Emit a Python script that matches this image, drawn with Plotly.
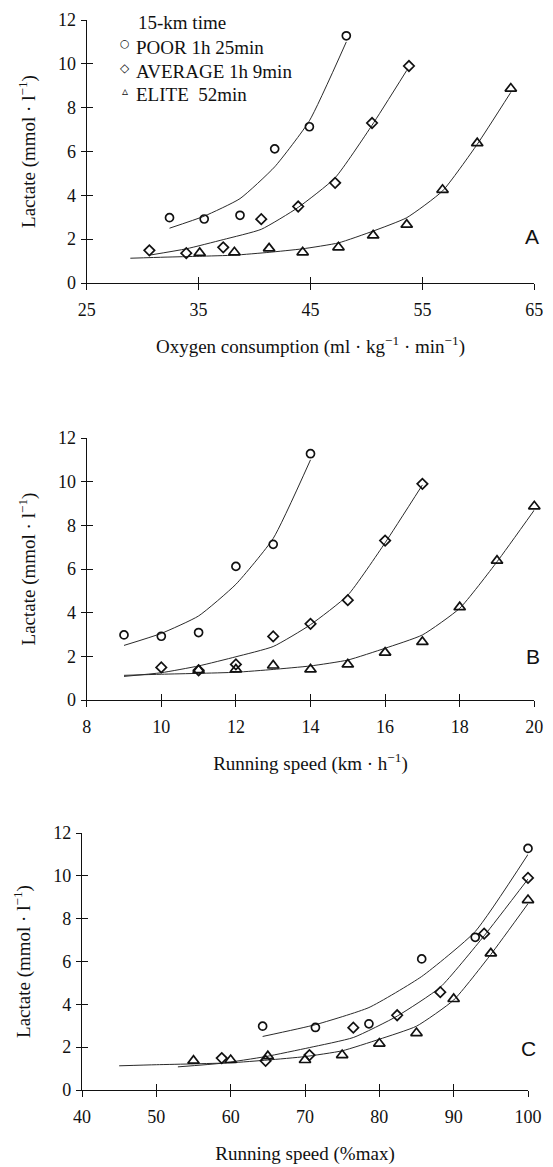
import plotly.graph_objects as go

# ---------------- data ----------------
GROUPS = ["POOR", "AVERAGE", "ELITE"]
GROUP_TIMES = ["1h 25min", "1h 9min", " 52min"]
LEGEND_TITLE = "15-km time"
PANEL_LETTERS = ["A", "B", "C"]

POOR_VO2 = [32.4, 35.5, 38.7, 41.8, 44.9, 48.2]
POOR_SPEED = [9, 10, 11, 12, 13, 14]
POOR_PCT = [64.3, 71.4, 78.6, 85.7, 92.9, 100]
POOR_LACTATE = [2.98, 2.92, 3.09, 6.12, 7.13, 11.28]

AVG_VO2 = [30.6, 33.9, 37.2, 40.6, 43.9, 47.2, 50.5, 53.8]
AVG_SPEED = [10, 11, 12, 13, 14, 15, 16, 17]
AVG_PCT = [58.8, 64.7, 70.6, 76.5, 82.4, 88.2, 94.1, 100]
AVG_LACTATE = [1.49, 1.36, 1.63, 2.91, 3.49, 4.57, 7.30, 9.90]

ELITE_VO2 = [35.1, 38.2, 41.3, 44.3, 47.5, 50.6, 53.6, 56.8, 59.9, 62.9]
ELITE_SPEED = [11, 12, 13, 14, 15, 16, 17, 18, 19, 20]
ELITE_PCT = [55, 60, 65, 70, 75, 80, 85, 90, 95, 100]
ELITE_LACTATE = [1.37, 1.40, 1.58, 1.40, 1.63, 2.17, 2.66, 4.25, 6.38, 8.87]

# fitted curves
POOR_FIT_VO2 = [32.4, 35.5, 38.7, 41.8, 44.9, 48.2]
POOR_FIT_SPEED = [9, 10, 11, 12, 13, 14]
POOR_FIT_PCT = [64.3, 71.4, 78.6, 85.7, 92.9, 100]
POOR_FIT = [2.5, 3.05, 3.85, 5.3, 7.4, 11.0]

AVG_FIT_VO2 = [30.6, 33.9, 37.2, 40.6, 43.9, 47.2, 50.5, 53.6]
AVG_FIT_VO2_LACTATE = [1.27, 1.56, 1.98, 2.45, 3.45, 4.8, 7.2, 9.7]
AVG_FIT_SPEED = [9, 10, 11, 12, 13, 14, 15, 16, 17]
AVG_FIT_PCT = [52.9, 58.8, 64.7, 70.6, 76.5, 82.4, 88.2, 94.1, 100]
AVG_FIT = [1.08, 1.25, 1.56, 1.98, 2.45, 3.45, 4.8, 7.2, 9.85]

ELITE_FIT_VO2 = [28.9, 32.0, 35.1, 38.2, 41.3, 44.3, 47.5, 50.6, 53.6, 56.8, 59.9, 62.9]
ELITE_FIT_SPEED = [9, 10, 11, 12, 13, 14, 15, 16, 17, 18, 19, 20]
ELITE_FIT_PCT = [45, 50, 55, 60, 65, 70, 75, 80, 85, 90, 95, 100]
ELITE_FIT = [1.13, 1.18, 1.22, 1.27, 1.40, 1.56, 1.83, 2.37, 2.98, 4.2, 6.33, 8.7]

X_TICKS_A = [25, 35, 45, 55, 65]
X_TICKS_B = [8, 10, 12, 14, 16, 18, 20]
X_TICKS_C = [40, 50, 60, 70, 80, 90, 100]
Y_TICKS = [0, 2, 4, 6, 8, 10, 12]

# ---------------- layout helpers ----------------
PAGE_W, PAGE_H = 553, 1167
BODY = 8                      # default page margin around the plot div
W, H = PAGE_W - BODY, PAGE_H - BODY
def fx(p):                    # page pixel -> paper fraction
    return (p - BODY) / W
def fy(p):
    return 1 - (p - BODY) / H

SERIF = "Liberation Serif"
SANS = "Liberation Sans"
INK = "#111111"
SYMBOLS = ["circle-open", "diamond-open", "triangle-up-open"]
SIZES = [8, 8, 10]

fig = go.Figure()

panels = [
    dict(xs=[POOR_VO2, AVG_VO2, ELITE_VO2],
         fx=[POOR_FIT_VO2, AVG_FIT_VO2, ELITE_FIT_VO2],
         fy=[POOR_FIT, AVG_FIT_VO2_LACTATE, ELITE_FIT],
         ticks=X_TICKS_A, xr=[25, 65], xd=(86.7, 534.3), yd=(283, 20),
         title="Oxygen consumption (ml · kg<sup>−1</sup> · min<sup>−1</sup>)"),
    dict(xs=[POOR_SPEED, AVG_SPEED, ELITE_SPEED],
         fx=[POOR_FIT_SPEED, AVG_FIT_SPEED, ELITE_FIT_SPEED],
         fy=[POOR_FIT, AVG_FIT, ELITE_FIT],
         ticks=X_TICKS_B, xr=[8, 20], xd=(86.7, 534.3), yd=(700, 438),
         title="Running speed (km · h<sup>−1</sup>)"),
    dict(xs=[POOR_PCT, AVG_PCT, ELITE_PCT],
         fx=[POOR_FIT_PCT, AVG_FIT_PCT, ELITE_FIT_PCT],
         fy=[POOR_FIT, AVG_FIT, ELITE_FIT],
         ticks=X_TICKS_C, xr=[40, 100], xd=(82, 528), yd=(1090, 833),
         title="Running speed (%max)"),
]
LACT = [POOR_LACTATE, AVG_LACTATE, ELITE_LACTATE]

layout = {}
for i, p in enumerate(panels):
    n = i + 1
    m = i + 4
    xa = "x" if n == 1 else f"x{n}"
    ya = "y" if n == 1 else f"y{n}"
    xo, yo = f"x{m}", f"y{m}"
    xdom = [fx(p["xd"][0]), fx(p["xd"][1])]
    ydom = [fy(p["yd"][0]), fy(p["yd"][1])]
    base_font = dict(family=SERIF, size=18, color=INK)
    layout["xaxis" if n == 1 else f"xaxis{n}"] = dict(
        domain=xdom, anchor=ya, range=p["xr"], tickvals=p["ticks"],
        showline=True, linecolor=INK, linewidth=1.2, ticks="outside", ticklen=6,
        tickwidth=1.2, tickcolor=INK, showgrid=False, zeroline=False,
        tickfont=base_font, ticklabelstandoff=4, automargin=False,
        title=dict(text=p["title"], font=dict(family=SERIF, size=19, color=INK), standoff=20),
    )
    layout["yaxis" if n == 1 else f"yaxis{n}"] = dict(
        domain=ydom, anchor=xa, range=[0, 12], tickvals=Y_TICKS,
        showline=True, linecolor=INK, linewidth=1.2, ticks="outside", ticklen=5,
        tickwidth=1.2, tickcolor=INK, showgrid=False, zeroline=False,
        tickfont=base_font, ticklabelstandoff=1, automargin=False,
        title=dict(text="Lactate (mmol · l<sup>−1</sup>)", font=dict(family=SERIF, size=19, color=INK), standoff=17),
    )
    layout[f"xaxis{m}"] = dict(
        overlaying=xa, anchor=yo, range=p["xr"], tickvals=p["ticks"],
        ticks="inside", ticklen=6, tickwidth=1.2, tickcolor=INK, automargin=False,
        showticklabels=False, showline=False, showgrid=False, zeroline=False)
    layout[f"yaxis{m}"] = dict(
        overlaying=ya, anchor=xo, range=[0, 12], tickvals=Y_TICKS,
        ticks="inside", ticklen=6, tickwidth=1.2, tickcolor=INK, automargin=False,
        showticklabels=False, showline=False, showgrid=False, zeroline=False)

    for g in range(3):
        fig.add_trace(go.Scatter(
            x=p["fx"][g], y=p["fy"][g], mode="lines", xaxis=xa, yaxis=ya,
            line=dict(color="#2a2a2a", width=1, shape="spline", smoothing=0.5),
            showlegend=False, hoverinfo="skip", name=GROUPS[g] + " fit"))
    for g in range(3):
        fig.add_trace(go.Scatter(
            x=p["xs"][g], y=LACT[g], mode="markers", xaxis=xo, yaxis=yo,
            cliponaxis=False,
            marker=dict(symbol=SYMBOLS[g], size=SIZES[g], color=INK, line=dict(width=1.7)),
            showlegend=False, name=GROUPS[g]))

annotations = []
annotations.append(dict(text=LEGEND_TITLE, x=fx(136), y=fy(22), xref="paper", yref="paper",
                        xanchor="left", yanchor="middle", showarrow=False,
                        font=dict(family=SERIF, size=19, color=INK)))
LEG_SYM = ["○", "◇", "▵"]
LEG_SYM_SIZE = [11, 12, 12]
for g in range(3):
    yy = [48, 71.5, 95][g]
    annotations.append(dict(text=LEG_SYM[g], x=fx(125), y=fy(yy - 4), xref="paper", yref="paper",
                            xanchor="center", yanchor="middle", showarrow=False,
                            font=dict(family="DejaVu Sans", size=LEG_SYM_SIZE[g], color=INK)))
    annotations.append(dict(text=f"{GROUPS[g]} {GROUP_TIMES[g]}", x=fx(134), y=fy(yy),
                            xref="paper", yref="paper", xanchor="left", yanchor="middle",
                            showarrow=False, font=dict(family=SERIF, size=19, color=INK)))
for i, (lx, ly) in enumerate([(532, 236), (533, 656), (528, 1048)]):
    annotations.append(dict(text=PANEL_LETTERS[i], x=fx(lx), y=fy(ly), xref="paper", yref="paper",
                            xanchor="center", yanchor="middle", showarrow=False,
                            font=dict(family=SANS, size=21, color=INK)))

fig.update_layout(
    **layout,
    annotations=annotations,
    width=W, height=H,
    margin=dict(l=0, r=0, t=0, b=0, autoexpand=False),
    paper_bgcolor="white", plot_bgcolor="white",
    showlegend=False,
)

fig.write_html("out.html", include_plotlyjs=True, config={"displayModeBar": False})
